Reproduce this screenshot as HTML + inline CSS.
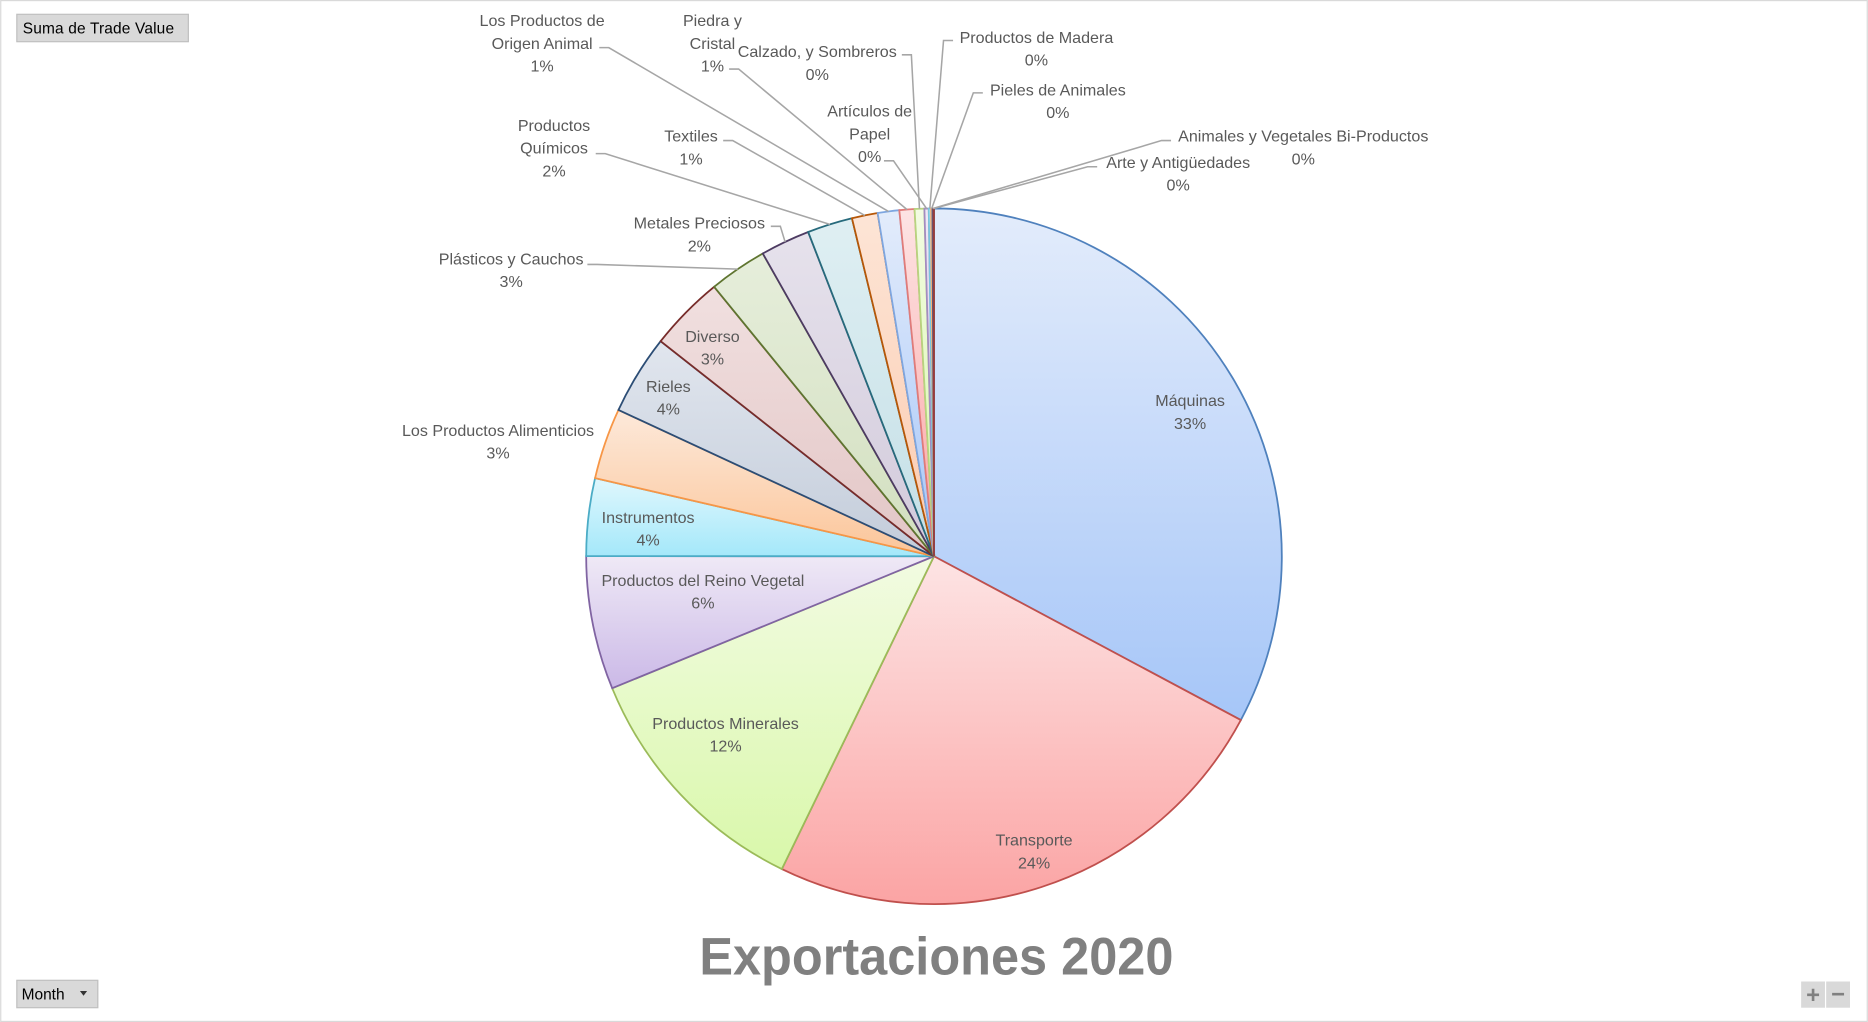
<!DOCTYPE html>
<html><head><meta charset="utf-8"><style>
html,body{margin:0;padding:0;background:#fff;}
svg{display:block;font-family:"Liberation Sans",sans-serif;}
</style></head><body>
<svg id="chart" width="1868" height="1022" viewBox="0 0 1568 858" xmlns="http://www.w3.org/2000/svg">
<defs id="defs"></defs>
<rect x="0.5" y="0.5" width="1567" height="857" fill="#fff" stroke="#d9d9d9"/>
<g><rect x="14" y="12" width="144" height="23" fill="#d9d9d9" stroke="#bfbfbf"/><text x="19" y="28" font-size="13" fill="#000" textLength="127">Suma de Trade Value</text></g>
<g><rect x="14" y="823" width="68" height="23" fill="#d9d9d9" stroke="#bfbfbf"/><text x="18" y="839" font-size="13" fill="#000">Month</text><path d="M67 832 l6 0 l-3 4z" fill="#333"/></g>
<g><rect x="1512" y="824" width="20" height="22" fill="#d9d9d9"/><rect x="1533" y="824" width="20" height="22" fill="#d9d9d9"/><text x="1522" y="842" font-size="20" font-weight="bold" text-anchor="middle" fill="#808080">+</text><text x="1543" y="841" font-size="20" font-weight="bold" text-anchor="middle" fill="#808080">−</text></g>
<g id="slices"></g><g id="leaders"></g><g id="labels"></g>
<text x="786" y="818" font-size="44" font-weight="bold" fill="#808080" text-anchor="middle" textLength="398" lengthAdjust="spacingAndGlyphs">Exportaciones 2020</text>
</svg>
<script>
const categories=["Máquinas","Transporte","Productos Minerales","Productos del Reino Vegetal","Instrumentos","Los Productos Alimenticios","Rieles","Diverso","Plásticos y Cauchos","Metales Preciosos","Productos Químicos","Textiles","Los Productos de Origen Animal","Piedra y Cristal","Calzado, y Sombreros","Artículos de Papel","Productos de Madera","Pieles de Animales","Animales y Vegetales Bi-Productos","Arte y Antigüedades"];
const values=[32.8,24.4,11.6,6.2,3.6,3.3,3.7,3.5,2.7,2.3,2.1,1.2,1.0,0.7,0.45,0.2,0.1,0.07,0.04,0.03];
const pctLabels=["33%","24%","12%","6%","4%","3%","4%","3%","3%","2%","2%","1%","1%","1%","0%","0%","0%","0%","0%","0%"];
// layout (not data)
const nameLines=[["Máquinas"],["Transporte"],["Productos Minerales"],["Productos del Reino Vegetal"],["Instrumentos"],["Los Productos Alimenticios"],["Rieles"],["Diverso"],["Plásticos y Cauchos"],["Metales Preciosos"],["Productos","Químicos"],["Textiles"],["Los Productos de","Origen Animal"],["Piedra y","Cristal"],["Calzado, y Sombreros"],["Artículos de","Papel"],["Productos de Madera"],["Pieles de Animales"],["Animales y Vegetales Bi-Productos"],["Arte y Antigüedades"]];
const labelXY=[[999,341],[868,710],[609,612],[590,492],[544,439],[418,366],[561,329],[598,287],[429,222],[587,192],[465,110],[580,119],[455,22],[598,22],[686,48],[730,98],[870,36],[888,80],[1094,119],[989,141]];
const leaderStart=[null,null,null,null,null,null,null,null,[493,222],[647,190],[500,129],[607,118],[503,40],[612,58],[757,46],[742,135],[800,34],[825,78],[983,118],[921,140]];
const strokes=["#4f81bd","#c0504d","#9bbb59","#8064a2","#4bacc6","#f79646","#2c4d75","#772c2a","#5f7530","#4d3b62","#276a7c","#b65708","#7ea6e0","#e07b79","#b7d47f","#a38cc0","#79c6dc","#f9b27a","#3a6aa5","#9a3c39"];
const topC=["#e3ecfb","#fde4e4","#f2fbe2","#efe9f6","#e0f7fd","#fde9da","#e1e6ee","#f1e0e0","#e6eedb","#e6e2ec","#dfeff3","#fde5d6","#e3ecfb","#fde4e4","#f2fbe2","#efe9f6","#e0f7fd","#fde9da","#e1e6ee","#f1e0e0"];
const botC=["#a6c6f8","#fba4a4","#d9f8aa","#cbb9e7","#a4e8fa","#fbc599","#c3ccda","#e2c5c5","#d2dfbf","#d2cadb","#c4dfe6","#fbcbb0","#a6c6f8","#fba4a4","#d9f8aa","#cbb9e7","#a4e8fa","#fbc599","#c3ccda","#e2c5c5"];
const NS="http://www.w3.org/2000/svg";
const cx=784,cy=467,R=292;
const total=values.reduce((a,b)=>a+b,0);
function pt(frac,r){const a=frac*2*Math.PI;return [cx+r*Math.sin(a),cy-r*Math.cos(a)];}
const defs=document.getElementById('defs'),gS=document.getElementById('slices'),gL=document.getElementById('leaders'),gT=document.getElementById('labels');
let cum=0;
values.forEach((v,i)=>{
  const f0=cum/total,f1=(cum+v)/total;cum+=v;
  const g=document.createElementNS(NS,'linearGradient');g.id='g'+i;g.setAttribute('x1','0');g.setAttribute('y1','0');g.setAttribute('x2','0');g.setAttribute('y2','1');
  g.innerHTML='<stop offset="0" stop-color="'+topC[i]+'"/><stop offset="1" stop-color="'+botC[i]+'"/>';defs.appendChild(g);
  const [x0,y0]=pt(f0,R),[x1,y1]=pt(f1,R);const large=(f1-f0)>0.5?1:0;
  const p=document.createElementNS(NS,'path');
  p.setAttribute('d',`M${cx},${cy}L${x0},${y0}A${R},${R} 0 ${large} 1 ${x1},${y1}Z`);
  p.setAttribute('fill','url(#g'+i+')');p.setAttribute('stroke',strokes[i]);p.setAttribute('stroke-width','1.5');
  
  
  gS.appendChild(p);
  // label
  const t=document.createElementNS(NS,'text');
  t.setAttribute('text-anchor','middle');t.setAttribute('font-size','13.5');t.setAttribute('fill','#595959');
  
  
  const lines=nameLines[i].concat([pctLabels[i]]);
  lines.forEach((s,k)=>{const ts=document.createElementNS(NS,'tspan');ts.setAttribute('x',labelXY[i][0]);ts.setAttribute('y',labelXY[i][1]+k*19);ts.textContent=s;t.appendChild(ts);});
  gT.appendChild(t);
  if(leaderStart[i]){
    const [ex,ey]=pt((f0+f1)/2,R);const s=leaderStart[i];
    const l=document.createElementNS(NS,'polyline');
    l.setAttribute('points',`${s[0]},${s[1]} ${s[0]+(ex>s[0]?8:-8)},${s[1]} ${ex},${ey}`);
    l.setAttribute('fill','none');l.setAttribute('stroke','#a6a6a6');l.setAttribute('stroke-width','1.3');
    
    
    gL.appendChild(l);
  }
});
</script>
</body></html>
